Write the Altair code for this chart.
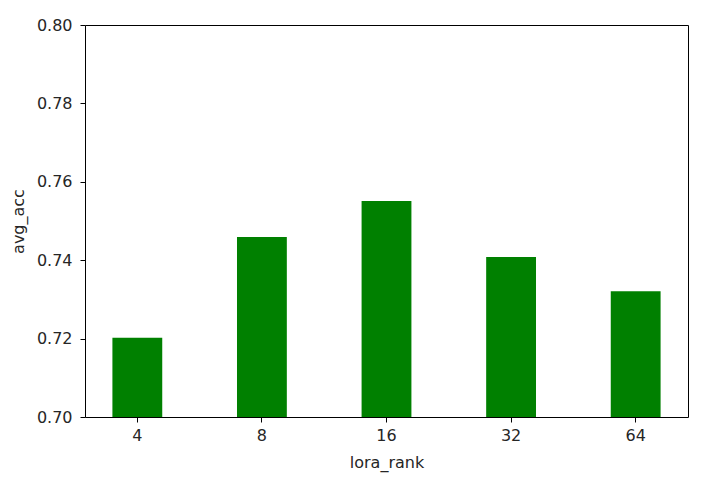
import altair as alt
import pandas as pd

lora_rank = ["4", "8", "16", "32", "64"]
avg_acc = [0.7202, 0.7459, 0.7551, 0.7408, 0.7321]

df = pd.DataFrame({"lora_rank": lora_rank, "avg_acc": avg_acc})

FONT = "DejaVu Sans"

chart = alt.Chart(df).mark_bar(color="#008000").encode(
    x=alt.X("lora_rank:N", sort=lora_rank,
            scale=alt.Scale(paddingInner=0.6, paddingOuter=0.22),
            axis=alt.Axis(title="lora_rank", labelAngle=0, labelPadding=5,
                          titlePadding=11)),
    y=alt.Y("avg_acc:Q", scale=alt.Scale(domain=[0.70, 0.80], clamp=True, zero=False, nice=False),
            axis=alt.Axis(title="avg_acc", values=[0.70, 0.72, 0.74, 0.76, 0.78, 0.80],
                          format=".2f", labelPadding=8, titlePadding=10)),
).properties(
    width=603, height=392,
    autosize=alt.AutoSizeParams(type="none"),
    padding={"left": 77, "top": 17, "right": 10, "bottom": 60},
).configure_view(
    stroke="#000000", strokeWidth=1
).configure_axis(
    grid=False, domain=False, tickColor="#000000", tickSize=5, tickWidth=1,
    labelFont=FONT, titleFont=FONT, labelFontSize=16, titleFontSize=16,
    labelColor="#262626", titleColor="#262626", titleFontWeight="normal",
)

chart.save("out.html", embed_options={"renderer": "svg", "actions": False})
